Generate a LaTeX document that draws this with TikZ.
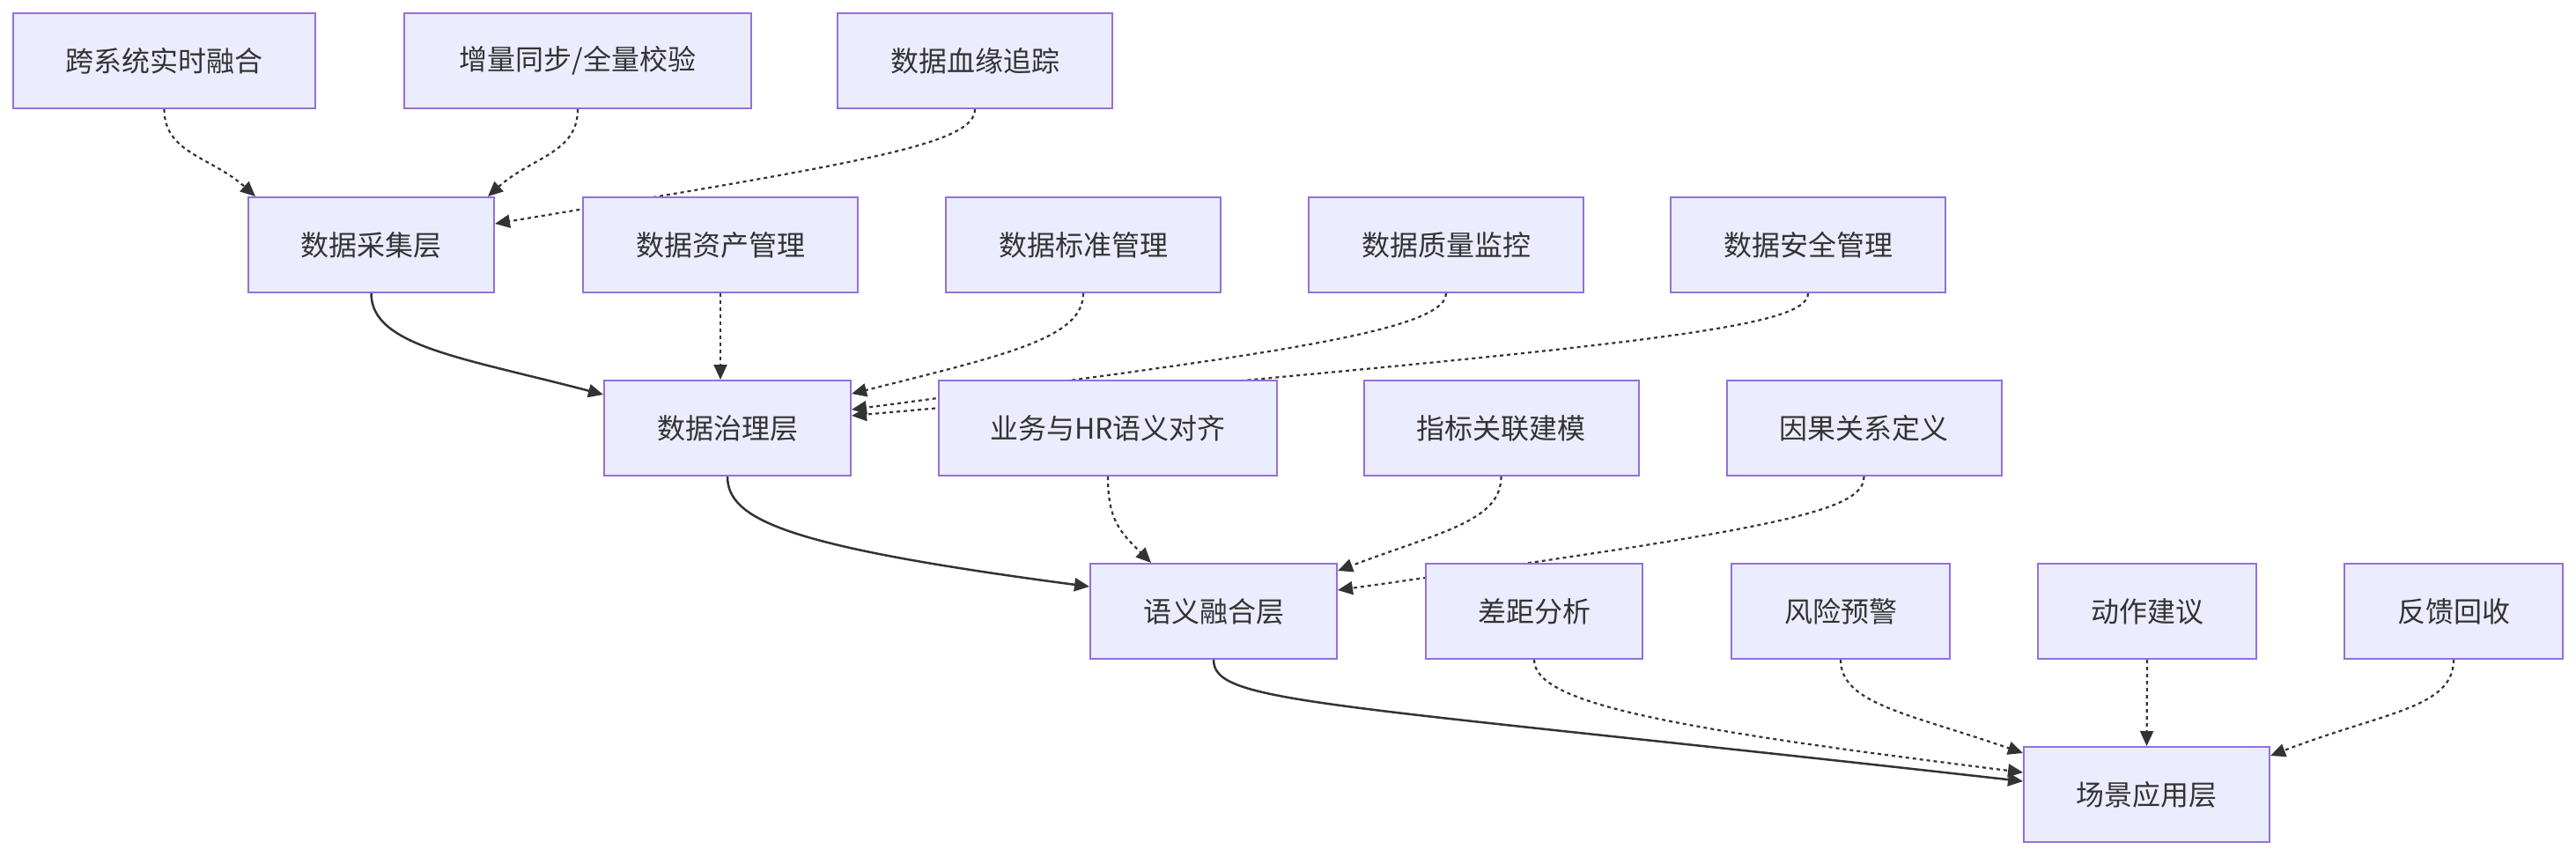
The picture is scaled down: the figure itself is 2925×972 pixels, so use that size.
\documentclass[tikz,border=0pt]{standalone}
\usepackage{fontspec}
\setmainfont{Noto Sans CJK SC}
\usetikzlibrary{arrows.meta}
\definecolor{boxfill}{HTML}{ECECFF}
\definecolor{boxline}{HTML}{9370DB}
\definecolor{ink}{HTML}{333333}
\pgfdeclarelayer{bg}
\pgfsetlayers{bg,main}

\begin{document}
\begin{tikzpicture}[x=1pt,y=-1pt,>={Triangle[length=17pt,width=15pt]}]
    \tikzstyle{box}=[rectangle,draw=boxline,fill=boxfill,line width=2pt,text=ink,
        minimum height=108pt,inner sep=0pt,font=\fontsize{32}{38}\selectfont]
    \tikzstyle{flow}=[->,draw=ink,line width=2.5pt]
    \tikzstyle{feed}=[->,draw=ink,line width=2.2pt,dash pattern=on 4pt off 4pt]
    \useasboundingbox (0,0) rectangle (2925,972);
    \begin{scope}
        % top row
        \node[box,minimum width=343pt] (rt) at (186.5,69) {跨系统实时融合};
        \node[box,minimum width=394pt] (tb) at (656,69) {增量同步/全量校验};
        \node[box,minimum width=312pt] (xy) at (1107,69) {数据血缘追踪};
        % layer 1
        \node[box,minimum width=279pt] (cj) at (421.5,278) {数据采集层};
        \node[box,minimum width=312pt] (zc) at (818,278) {数据资产管理};
        \node[box,minimum width=312pt] (bz) at (1230,278) {数据标准管理};
        \node[box,minimum width=312pt] (zl) at (1642,278) {数据质量监控};
        \node[box,minimum width=312pt] (aq) at (2053,278) {数据安全管理};
        % layer 2
        \node[box,minimum width=280pt] (zh) at (826,486) {数据治理层};
        \node[box,minimum width=384pt] (yw) at (1258,486) {业务与HR语义对齐};
        \node[box,minimum width=312pt] (zb) at (1704.5,486) {指标关联建模};
        \node[box,minimum width=312pt] (yg) at (2116.5,486) {因果关系定义};
        % layer 3
        \node[box,minimum width=280pt] (yy) at (1378,694) {语义融合层};
        \node[box,minimum width=246pt] (cd) at (1742,694) {差距分析};
        \node[box,minimum width=248pt] (fx) at (2090,694) {风险预警};
        \node[box,minimum width=248pt] (dz) at (2438,694) {动作建议};
        \node[box,minimum width=248pt] (fk) at (2786,694) {反馈回收};
        % layer 4
        \node[box,minimum width=279pt] (cy) at (2437.5,902) {场景应用层};
    \end{scope}
    \begin{pgfonlayer}{bg}
        % main chain
        \draw[flow] (cj.south) .. controls +(0,60) and +(-160,-42) .. ([yshift=38pt]zh.west);
        \draw[flow] (zh.south) .. controls +(0,50) and +(-340,-45) .. ([yshift=28pt]yy.west);
        \draw[flow] (yy.south) .. controls +(0,50) and +(-800,-90) .. ([yshift=15pt]cy.west);
        % into 数据采集层
        \draw[feed] (rt.south) .. controls +(0,50) and +(-50,-45) .. ([xshift=9pt]cj.north west);
        \draw[feed] (tb.south) .. controls +(0,50) and +(50,-45) .. ([xshift=-8pt]cj.north east);
        \draw[feed] (xy.south) .. controls +(0,40) and +(420,-70) .. ([yshift=24pt]cj.east);
        % into 数据治理层
        \draw[feed] (zc.south) -- (zc.south |- zh.north);
        \draw[feed] (bz.south) .. controls +(0,50) and +(180,-45) .. ([yshift=39pt]zh.east);
        \draw[feed] (zl.south) .. controls +(0,45) and +(450,-60) .. ([yshift=21pt]zh.east);
        \draw[feed] (aq.south) .. controls +(0,40) and +(900,-80) .. ([yshift=14pt]zh.east);
        % into 语义融合层
        \draw[feed] (yw.south) .. controls +(0,50) and +(-35,-35) .. ([xshift=70pt]yy.north west);
        \draw[feed] (zb.south) .. controls +(0,50) and +(120,-45) .. ([yshift=46pt]yy.east);
        \draw[feed] (yg.south) .. controls +(0,40) and +(500,-70) .. ([yshift=24pt]yy.east);
        % into 场景应用层
        \draw[feed] (cd.south) .. controls +(0,50) and +(-400,-50) .. ([yshift=25pt]cy.west);
        \draw[feed] (fx.south) .. controls +(0,50) and +(-130,-45) .. ([yshift=47pt]cy.west);
        \draw[feed] (dz.south) -- (cy.north);
        \draw[feed] (fk.south) .. controls +(0,55) and +(130,-50) .. ([yshift=44pt]cy.east);
    \end{pgfonlayer}
\end{tikzpicture}
\end{document}
